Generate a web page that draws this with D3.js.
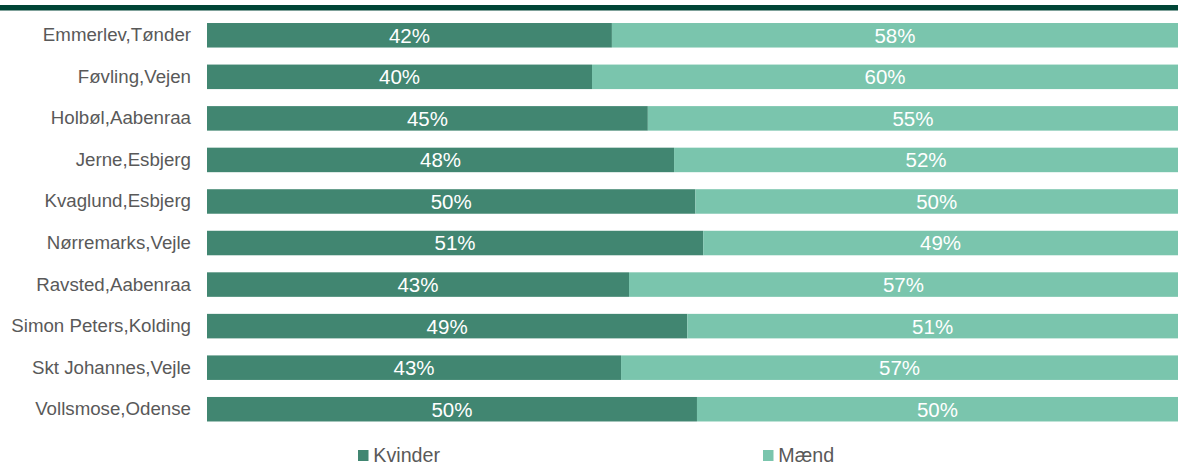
<!DOCTYPE html>
<html><head><meta charset="utf-8">
<script src="https://cdn.jsdelivr.net/npm/d3@7"></script>
<style>body{margin:0;background:#fff;}svg{display:block;font-family:"Liberation Sans",Arial,sans-serif;}</style>
</head><body><svg id="c" width="1178" height="466"></svg>
<script>
const categories = ["Emmerlev,Tønder","Føvling,Vejen","Holbøl,Aabenraa","Jerne,Esbjerg","Kvaglund,Esbjerg","Nørremarks,Vejle","Ravsted,Aabenraa","Simon Peters,Kolding","Skt Johannes,Vejle","Vollsmose,Odense"];
const kvinder = [0.417, 0.3965, 0.454, 0.481, 0.503, 0.511, 0.4346, 0.4946, 0.4264, 0.5046];
const maend = kvinder.map(v => 1 - v);
const seriesNames = ["Kvinder","Mænd"];
const colors = ["#418671","#7ac5ad"];

const svg = d3.select("#c");
const W = 1178, H = 466;
const x = d3.scaleLinear().domain([0,1]).range([207, 1178]);
const y = d3.scaleBand().domain(categories).range([14.5, 430]).paddingInner(0.41).paddingOuter(0.205);

svg.append("rect").attr("x",0).attr("y",5).attr("width",W).attr("height",5.5).attr("fill","#004536");

const data = categories.map((c,i)=>({c, k:kvinder[i], m:maend[i]}));
const g = svg.append("g");
data.forEach(d=>{
  const segs = [[0,d.k,colors[0],d.k],[d.k,1,colors[1],d.m]];
  segs.forEach(s=>{
    g.append("rect").attr("x",x(s[0])).attr("y",y(d.c)).attr("width",x(s[1])-x(s[0])).attr("height",y.bandwidth()).attr("fill",s[2]);
    g.append("text").attr("x",(x(s[0])+x(s[1]))/2).attr("y",y(d.c)+y.bandwidth()/2).attr("dy","0.36em")
      .attr("text-anchor","middle").attr("fill","#fff").attr("font-size",20.5)
      .text(Math.round(s[3]*100)+"%");
  });
});

const yAxis = d3.axisLeft(y).tickSize(0).tickPadding(0);
const ax = svg.append("g").attr("transform","translate(191,0)").call(yAxis);
ax.select(".domain").remove();
ax.selectAll("text").attr("font-size",18.7).attr("fill","#595959").attr("font-family","'Liberation Sans',Arial,sans-serif");

const legX = [358, 763];
seriesNames.forEach((n,i)=>{
  svg.append("rect").attr("x",legX[i]).attr("y",450).attr("width",10.5).attr("height",11).attr("fill",colors[i]);
  svg.append("text").attr("x",legX[i]+15.3).attr("y",462).attr("font-size",19.7).attr("fill","#595959").text(n);
});
</script></body></html>
